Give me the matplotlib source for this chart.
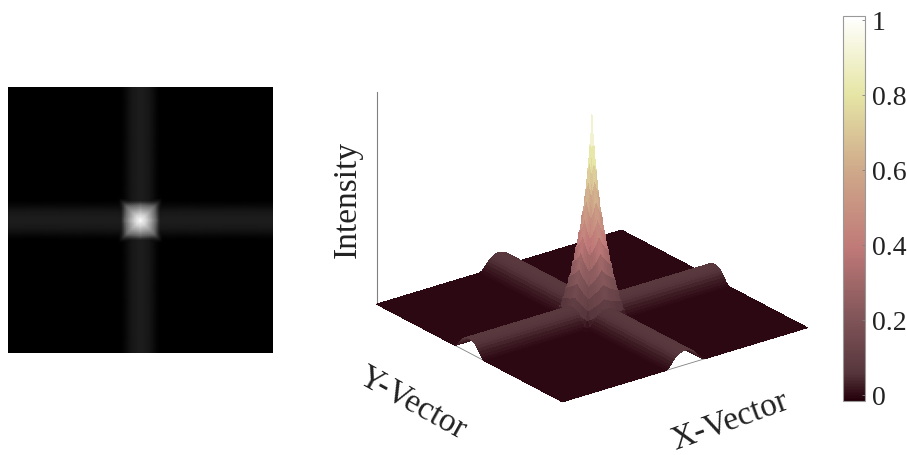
"""Point spread intensity: top view (left) and 3D surface with colorbar (right)."""
import numpy as np
import matplotlib
matplotlib.use("Agg")
import matplotlib.pyplot as plt
from matplotlib.cm import ScalarMappable
from matplotlib.colors import LinearSegmentedColormap, Normalize

plt.rcParams["font.family"] = ["Liberation Serif", "DejaVu Serif"]

W, H = 907, 456

half_pos = [0, .01, .02, .03, .045, .06, .075, .09, .105, .12, .135, .15, .165, .2, .5, 1]
spot_vals = [1, .88, .78, .69, .59, .50, .42, .34, .26, .19, .12, .06, .01, 0, 0, 0]
band_vals = [.072, .072, .071, .069, .065, .059, .052, .042, .03, .018, .008, .002, 0, 0, 0, 0]

cbar_ticks = [0, .2, .4, .6, .8, 1]
cbar_labels = ["0", "0.2", "0.4", "0.6", "0.8", "1"]

cmap_pos = [0, .07, .2, .4, .6, .8, 1]
cmap_cols = ["#24000a", "#56363c", "#7c5256", "#c07a78", "#cfa98a", "#e6e6a6", "#ffffff"]

# the left panel is displayed brighter than linear above the bands
gray_pos = [0, .07, .2, .4, .6, 1]
gray_vals = ["#000000", "#1c1c1c", "#6a6a6a", "#a8a8a8", "#d8d8d8", "#ffffff"]

pos = np.array([-p for p in half_pos[:0:-1]] + half_pos)
spot = np.array(spot_vals[:0:-1] + spot_vals)
band = np.array(band_vals[:0:-1] + band_vals)

sx, sy = np.meshgrid(spot, spot)
bx, by = np.meshgrid(band, band)
Z = np.maximum.reduce([.35 * sx * sy + .65 * np.minimum(sx, sy), bx, by])

cmap = LinearSegmentedColormap.from_list("psf", list(zip(cmap_pos, cmap_cols)))
gray = LinearSegmentedColormap.from_list("disp", list(zip(gray_pos, gray_vals)))
norm = Normalize(-.016, 1.01)


def px_axes(x0, y0, x1, y1, **kw):
    # rectangle in reference pixels, y counted from the top
    return fig.add_axes([x0 / W, 1 - y1 / H, (x1 - x0) / W, (y1 - y0) / H], **kw)


fig = plt.figure(figsize=(W / 100, H / 100), dpi=100)

# vista superior
ax_img = px_axes(8, 88, 273, 354)
ax_img.pcolormesh(pos, pos, Z, shading="gouraud", cmap=gray, vmin=0, vmax=1)
ax_img.set_axis_off()

# superficie 3D
S = 478
ax3d = fig.add_axes([346.5 / W, 1 - 456.5 / H, S / W, S / H], projection="3d")
ax3d.set_proj_type("ortho")
ax3d.view_init(elev=23.5, azim=-127.2)
ax3d.set_box_aspect((1, 1, .751))
X, Y = np.meshgrid(pos, pos)
ax3d.plot_surface(X, Y, Z, rstride=1, cstride=1, cmap=cmap, norm=norm,
                  linewidth=0, antialiased=False, shade=False)
ax3d.plot([-1, -1], [1, 1], [0, 1.05], color="#808080", lw=.8)
ax3d.plot([-1, -1, 1], [1, -1, -1], [0, 0, 0], color="#808080", lw=.6, zorder=0)
ax3d.set_xlim(-1, 1)
ax3d.set_ylim(-1, 1)
ax3d.set_zlim(0, 1.05)
ax3d.set_axis_off()

fig.text(347 / W, 1 - 199 / H, "Intensity", rotation=90, fontsize=24,
         ha="center", va="center", color="#222222")
fig.text(413 / W, 1 - 403 / H, "Y-Vector", rotation=-29, fontsize=24,
         ha="center", va="center", color="#222222", rotation_mode="anchor")
fig.text(730 / W, 1 - 421 / H, "X-Vector", rotation=20, fontsize=24,
         ha="center", va="center", color="#222222", rotation_mode="anchor")

# barra de color
cax = px_axes(843, 17, 865, 402)
cb = fig.colorbar(ScalarMappable(norm=norm, cmap=cmap), cax=cax, ticks=cbar_ticks)
cb.ax.set_yticklabels(cbar_labels)
cb.ax.tick_params(labelsize=20, length=2, width=.6, direction="in", color="#808080",
                  pad=5, labelcolor="#222222")
cb.outline.set_edgecolor("#999999")
cb.outline.set_linewidth(.8)

fig.savefig("out.png", dpi=100)
